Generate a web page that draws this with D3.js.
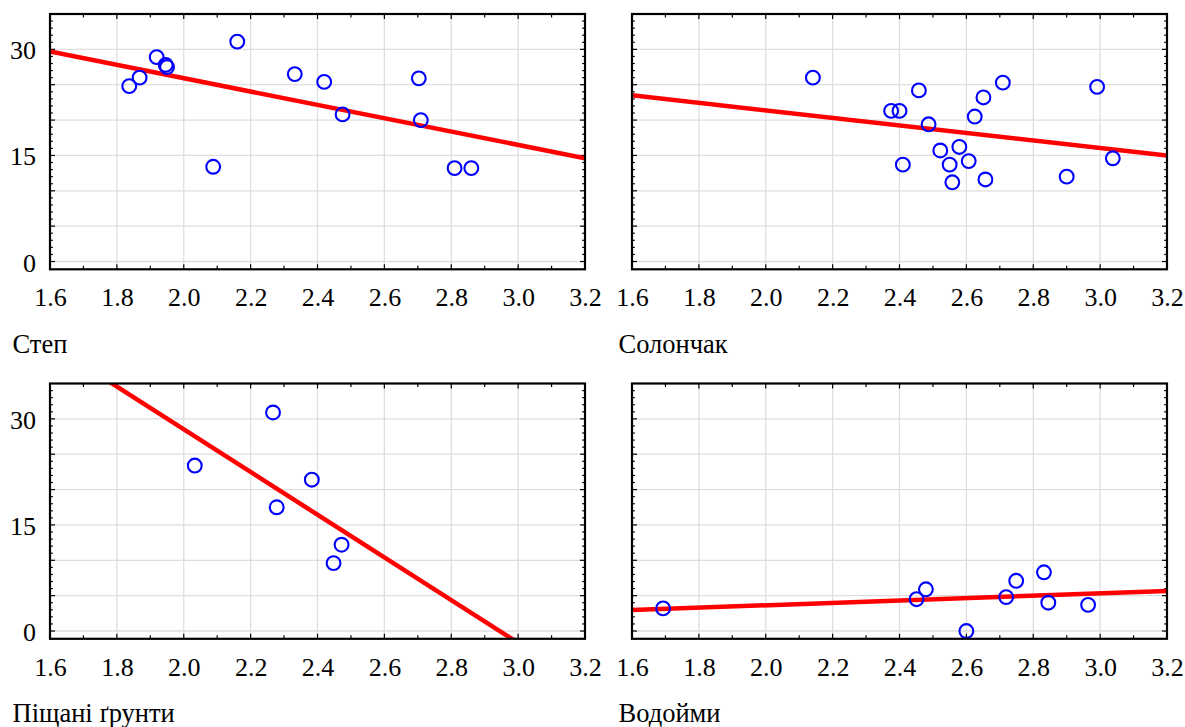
<!DOCTYPE html>
<html><head><meta charset="utf-8">
<script src="https://cdn.jsdelivr.net/npm/d3@7"></script>
<style>
html,body{margin:0;padding:0;background:#fff;}
svg{display:block;}
</style></head>
<body>
<svg id="chart" width="1185" height="727"></svg>
<script>
// ---- data ----
const panelTitles = ["Степ", "Солончак", "Піщані ґрунти", "Водойми"];

const stepX = [1.837, 1.868, 1.919, 1.946, 1.950, 2.088, 2.160, 2.332, 2.420, 2.475, 2.703, 2.709, 2.810, 2.860];
const stepY = [24.8, 26.0, 28.9, 27.8, 27.5, 13.4, 31.1, 26.5, 25.4, 20.8, 25.9, 20.0, 13.2, 13.2];

const solX = [2.141, 2.375, 2.400, 2.410, 2.458, 2.487, 2.522, 2.550, 2.558, 2.579, 2.607, 2.625, 2.651, 2.657, 2.709, 2.900, 2.991, 3.038];
const solY = [26.0, 21.3, 21.3, 13.7, 24.2, 19.4, 15.7, 13.7, 11.2, 16.2, 14.2, 20.5, 23.2, 11.6, 25.3, 12.0, 24.7, 14.6];

const sandX = [2.033, 2.267, 2.278, 2.383, 2.472, 2.448];
const sandY = [23.4, 30.9, 17.5, 21.4, 12.2, 9.6];

const waterX = [1.693, 2.451, 2.479, 2.600, 2.719, 2.749, 2.832, 2.845, 2.964];
const waterY = [3.2, 4.5, 5.9, 0.0, 4.8, 7.1, 8.3, 4.0, 3.7];

// fitted lines: values at x = 1.6 and x = 3.2
const fitX = [1.6, 3.2];
const stepFit = [29.7, 14.6];
const solFit = [23.5, 15.0];
const sandFit = [40.6, -7.7];
const waterFit = [2.97, 5.66];

const xTickLabels = [1.6, 1.8, 2.0, 2.2, 2.4, 2.6, 2.8, 3.0, 3.2];
const yTickLabels = [0, 15, 30];
const yGrid = [0, 5, 10, 15, 20, 25, 30];

// ---- layout ----
const FONT = "Liberation Serif";
const svg = d3.select("#chart");
const pw = 535, ph = 255.3;
const panels = [
  {x: 50,  y: 14,    px: stepX,  py: stepY,  fit: stepFit,  title: panelTitles[0], ylab: true},
  {x: 632, y: 14,    px: solX,   py: solY,   fit: solFit,   title: panelTitles[1], ylab: false},
  {x: 50,  y: 383.5, px: sandX,  py: sandY,  fit: sandFit,  title: panelTitles[2], ylab: true},
  {x: 632, y: 383.5, px: waterX, py: waterY, fit: waterFit, title: panelTitles[3], ylab: false}
];

const xDomain = [1.6, 3.2], yDomain = [-1.1, 35];
const minorX = d3.range(16, 33).map(d => d / 10);
const minorY = d3.range(0, 35);

panels.forEach((p, i) => {
  const x = d3.scaleLinear().domain(xDomain).range([0, pw]);
  const y = d3.scaleLinear().domain(yDomain).range([ph, 0]);
  const g = svg.append("g").attr("transform", `translate(${p.x},${p.y})`);

  const clipId = "clip" + i;
  g.append("clipPath").attr("id", clipId).append("rect")
    .attr("x", 0).attr("y", 0).attr("width", pw).attr("height", ph);

  // grid
  g.append("g").selectAll("line").data(xTickLabels.slice(1, -1)).join("line")
    .attr("x1", d => x(d)).attr("x2", d => x(d)).attr("y1", 0).attr("y2", ph)
    .attr("stroke", "#dedede").attr("stroke-width", 1.3);
  g.append("g").selectAll("line").data(yGrid).join("line")
    .attr("x1", 0).attr("x2", pw).attr("y1", d => y(d)).attr("y2", d => y(d))
    .attr("stroke", "#dedede").attr("stroke-width", 1.3);

  // ticks (inside)
  const tk = g.append("g").attr("stroke", "#000").attr("stroke-width", 1.2);
  minorX.forEach(d => {
    const major = Math.abs(Math.round(d * 5) - d * 5) < 1e-6;
    const len = major ? 5 : 3.5;
    tk.append("line").attr("x1", x(d)).attr("x2", x(d)).attr("y1", ph).attr("y2", ph - len);
    tk.append("line").attr("x1", x(d)).attr("x2", x(d)).attr("y1", 0).attr("y2", len);
  });
  minorY.forEach(d => {
    const len = d % 5 === 0 ? 5 : 2.8;
    tk.append("line").attr("x1", 0).attr("x2", len).attr("y1", y(d)).attr("y2", y(d));
    tk.append("line").attr("x1", pw).attr("x2", pw - len).attr("y1", y(d)).attr("y2", y(d));
  });

  // fit line
  g.append("g").attr("clip-path", `url(#${clipId})`).append("path")
    .datum(fitX.map((fx, k) => [fx, p.fit[k]]))
    .attr("d", d3.line().x(d => x(d[0])).y(d => y(d[1])))
    .attr("stroke", "#ff0000").attr("stroke-width", 4.5).attr("fill", "none");

  // points
  g.append("g").selectAll("circle").data(p.px.map((v, k) => [v, p.py[k]])).join("circle")
    .attr("cx", d => x(d[0])).attr("cy", d => y(d[1])).attr("r", 6.9)
    .attr("fill", "none").attr("stroke", "#0000ff").attr("stroke-width", 2.1);

  // frame
  g.append("rect").attr("x", 0).attr("y", 0).attr("width", pw).attr("height", ph)
    .attr("fill", "none").attr("stroke", "#000").attr("stroke-width", 2.2);

  // x labels
  const xa = g.append("g").attr("transform", `translate(0,${ph})`)
    .call(d3.axisBottom(x).tickValues(xTickLabels).tickSize(0).tickPadding(0).tickFormat(d3.format(".1f")));
  xa.attr("font-family", FONT).attr("font-size", 26);
  xa.select(".domain").remove();
  xa.selectAll("text").attr("fill", "#000").attr("font-family", FONT).attr("font-size", 26)
    .attr("dy", null).attr("y", 37);

  // y labels
  if (p.ylab) {
    const ya = g.append("g")
      .call(d3.axisLeft(y).tickValues(yTickLabels).tickSize(0).tickPadding(14).tickFormat(d3.format("d")));
    ya.attr("font-family", FONT).attr("font-size", 26);
    ya.select(".domain").remove();
    ya.selectAll("text").attr("fill", "#000").attr("font-family", FONT).attr("font-size", 26)
      .attr("dy", 9.5);
  }

  // title
  g.append("text").attr("x", p.ylab ? -37.5 : -13.5).attr("y", ph + 83.5)
    .attr("font-family", FONT).attr("font-size", 26.5).attr("fill", "#000").text(p.title);
});
</script>
</body></html>
